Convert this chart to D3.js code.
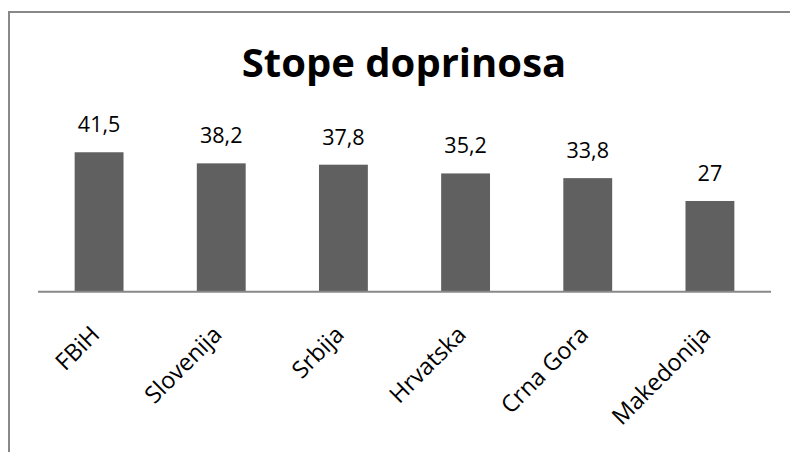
<!DOCTYPE html>
<html>
<head>
<meta charset="utf-8">
<script src="https://cdn.jsdelivr.net/npm/d3@7"></script>
<style>
  body { margin: 0; background: #fff; }
  svg text { font-family: "Open Sans", sans-serif; }
</style>
</head>
<body>
<div id="chart"></div>
<script>
  var countries = ["FBiH", "Slovenija", "Srbija", "Hrvatska", "Crna Gora", "Makedonija"];
  var rates = [41.5, 38.2, 37.8, 35.2, 33.8, 27];
  var labels = ["41,5", "38,2", "37,8", "35,2", "33,8", "27"];

  var width = 790,
    height = 452;

  var svg = d3.select("#chart")
    .append("svg")
    .attr("width", width)
    .attr("height", height);

  // frame (top + left edges only are visible)
  svg.append("path")
    .attr("d", "M9,452 V12 H790")
    .attr("fill", "none")
    .attr("stroke", "#888")
    .attr("stroke-width", 2);

  var x = d3.scaleBand()
    .domain(countries)
    .range([38, 771])
    .paddingInner(0.6)
    .paddingOuter(0.3);

  var y = d3.scaleLinear()
    .domain([0, 45])
    .range([291.7, 291.7 - 45 * 3.36]);

  var data = countries.map(function (c, i) {
    return { name: c, value: rates[i], label: labels[i] };
  });

  svg.selectAll(".bar")
    .data(data)
    .enter().append("rect")
    .attr("class", "bar")
    .attr("x", function (d) { return x(d.name); })
    .attr("width", x.bandwidth())
    .attr("y", function (d) { return y(d.value); })
    .attr("height", function (d) { return y(0) - y(d.value); })
    .attr("fill", "#606060");

  svg.selectAll(".val")
    .data(data)
    .enter().append("text")
    .attr("class", "val")
    .attr("x", function (d) { return x(d.name) + x.bandwidth() / 2; })
    .attr("y", function (d) { return y(d.value) - 20; })
    .attr("text-anchor", "middle")
    .attr("font-size", 21.5)
    .attr("fill", "#000")
    .text(function (d) { return d.label; });

  // baseline
  svg.append("line")
    .attr("x1", 38).attr("x2", 771)
    .attr("y1", y(0)).attr("y2", y(0))
    .attr("stroke", "#888")
    .attr("stroke-width", 2);

  svg.selectAll(".cat")
    .data(data)
    .enter().append("text")
    .attr("class", "cat")
    .attr("text-anchor", "end")
    .attr("font-size", 23.5)
    .attr("transform", function (d) {
      var cx = x(d.name) + x.bandwidth() / 2 + 2;
      return "translate(" + cx + "," + 336 + ") rotate(-45)";
    })
    .text(function (d) { return d.name; });

  svg.append("text")
    .attr("x", 404)
    .attr("y", 77)
    .attr("text-anchor", "middle")
    .attr("font-size", 40)
    .attr("font-weight", "bold")
    .text("Stope doprinosa");
</script>
</body>
</html>
